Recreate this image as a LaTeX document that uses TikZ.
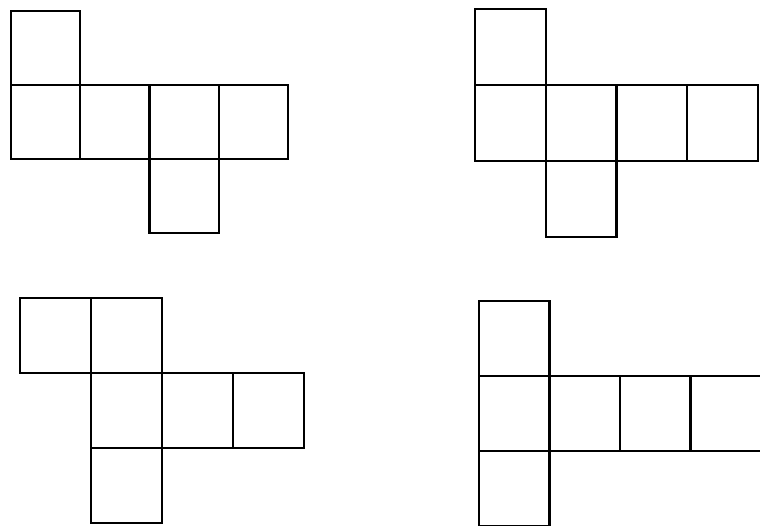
\documentclass[tikz,border=0pt]{standalone}
\usetikzlibrary{calc}

\begin{document}
\begin{tikzpicture}[x=0.02cm,y=-0.02cm,face/.style={draw=black,line width=1.4pt,line join=miter}]
  \useasboundingbox (0,0) rectangle (760,525);
  % origin x/y, cell width/height, cells as column/row
  \def\nets{%
    11/11/69.25/74/{0/0,0/1,1/1,2/1,3/1,2/2},%
    475/9/70.75/76/{0/0,0/1,1/1,2/1,3/1,1/2},%
    20/298/71/75/{0/0,1/0,1/1,2/1,3/1,1/2},%
    479/301/70.5/75/{0/0,0/1,1/1,2/1,3/1,0/2}%
  }
  \foreach [count=\ni] \ox/\oy/\w/\h/\cells in \nets {
    \foreach \c/\r in \cells {
      \draw[face] ({\ox+\c*\w},{\oy+\r*\h}) rectangle ++(\w,\h);
    }
  }
\end{tikzpicture}
\end{document}
